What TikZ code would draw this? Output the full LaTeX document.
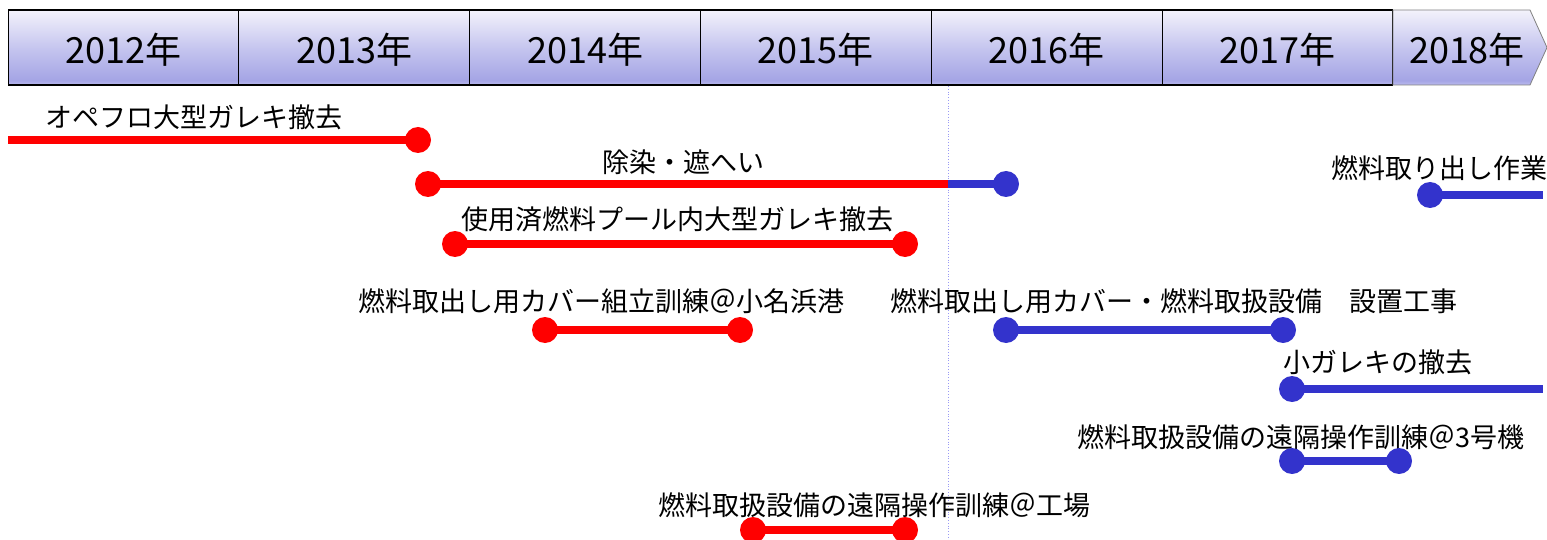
\documentclass[tikz,border=0pt]{standalone}
\usepackage{fontspec}
\newfontfamily\jp{Noto Sans CJK JP}
\definecolor{tlred}{HTML}{FF0000}
\definecolor{tlblue}{HTML}{3333CC}
\definecolor{vline}{HTML}{9A9AF5}
\definecolor{hT}{HTML}{F3F2FB}
\definecolor{hM}{HTML}{C6C6EF}
\definecolor{hC}{HTML}{A5A5E5}
\definecolor{hB}{HTML}{BABAEE}
\pgfdeclareverticalshading{hdrshade}{100bp}{color(0bp)=(hB); color(25bp)=(hB); color(28bp)=(hC); color(50bp)=(hM); color(75bp)=(hT); color(100bp)=(hT)}
\begin{document}
\begin{tikzpicture}[x=1pt,y=-1pt,
  yearcell/.style={draw=black, line width=1.1pt, shading=hdrshade, minimum width=230.8pt, minimum height=75pt, inner sep=0pt},
  yeartext/.style={inner sep=0pt, font=\jp\fontsize{36}{40}\selectfont},
  lbl/.style={inner sep=0pt, font=\jp\fontsize{27}{31}\selectfont},
  dotr/.style={circle, fill=tlred, minimum size=26pt, inner sep=0pt},
  dotb/.style={circle, fill=tlblue, minimum size=26pt, inner sep=0pt},
  redline/.style={draw=tlred, line width=8pt},
  blueline/.style={draw=tlblue, line width=8pt}]
\useasboundingbox (0,0) rectangle (1547,540);
% header
\node[yearcell] (c2012) at (123.5,47.5) {};
\node[yearcell] (c2013) at (354.3,47.5) {};
\node[yearcell] (c2014) at (585.1,47.5) {};
\node[yearcell] (c2015) at (815.9,47.5) {};
\node[yearcell] (c2016) at (1046.7,47.5) {};
\node[yearcell] (c2017) at (1277.5,47.5) {};
\path[shading=hdrshade, draw=gray, line width=0.8pt] (1393,10) -- (1530,10) -- (1547,47.5) -- (1530,85) -- (1393,85) -- cycle;
\node[yeartext] (y2012) at (123.5,49.5) {2012年};
\node[yeartext] (y2013) at (354.3,49.5) {2013年};
\node[yeartext] (y2014) at (585.1,49.5) {2014年};
\node[yeartext] (y2015) at (815.9,49.5) {2015年};
\node[yeartext] (y2016) at (1046.7,49.5) {2016年};
\node[yeartext] (y2017) at (1277.5,49.5) {2017年};
\node[yeartext] (y2018) at (1467,49.5) {2018年};
% dotted divider
\coordinate (vtop) at (948,86);
\coordinate (vbot) at (948,540);
\draw[vline, dotted, line width=0.8pt] (vtop) -- (vbot);
% labels
\node[lbl] (l1) at (194,117) {オペフロ大型ガレキ撤去};
\node[lbl] (l2) at (683,162) {除染・遮へい};
\node[lbl] (l3) at (677,219) {使用済燃料プール内大型ガレキ撤去};
\node[lbl] (l4) at (601,301) {燃料取出し用カバー組立訓練＠小名浜港};
\node[lbl] (l5) at (1174,301) {燃料取出し用カバー・燃料取扱設備　設置工事};
\node[lbl] (l6) at (1439,168) {燃料取り出し作業};
\node[lbl] (l7) at (1378,362) {小ガレキの撤去};
\node[lbl] (l8) at (1301,437) {燃料取扱設備の遠隔操作訓練＠3号機};
\node[lbl] (l9) at (874,505) {燃料取扱設備の遠隔操作訓練＠工場};
% row 1
\coordinate (s1) at (8,140);
\node[dotr] (e1) at (418,140) {};
\draw[redline] (s1) -- (e1.center);
% row 2
\node[dotr] (s2) at (428,184) {};
\coordinate (m2) at (948,184);
\node[dotb] (e2) at (1006,184) {};
\draw[redline] (s2.center) -- (m2);
\draw[blueline] (m2) -- (e2.center);
% row 3
\node[dotr] (s3) at (455,244) {};
\node[dotr] (e3) at (905,244) {};
\draw[redline] (s3.center) -- (e3.center);
% row 4
\node[dotr] (s4) at (545,330) {};
\node[dotr] (e4) at (740,330) {};
\draw[redline] (s4.center) -- (e4.center);
% row 5
\node[dotb] (s5) at (1006,330) {};
\node[dotb] (e5) at (1283,330) {};
\draw[blueline] (s5.center) -- (e5.center);
% row 6
\node[dotb] (s6) at (1430,195) {};
\coordinate (e6) at (1543,195);
\draw[blueline] (s6.center) -- (e6);
% row 7
\node[dotb] (s7) at (1292,389) {};
\coordinate (e7) at (1543,389);
\draw[blueline] (s7.center) -- (e7);
% row 8
\node[dotb] (s8) at (1292,461) {};
\node[dotb] (e8) at (1399,461) {};
\draw[blueline] (s8.center) -- (e8.center);
% row 9
\node[dotr] (s9) at (753,530) {};
\node[dotr] (e9) at (905,530) {};
\draw[redline] (s9.center) -- (e9.center);
\end{tikzpicture}
\end{document}
